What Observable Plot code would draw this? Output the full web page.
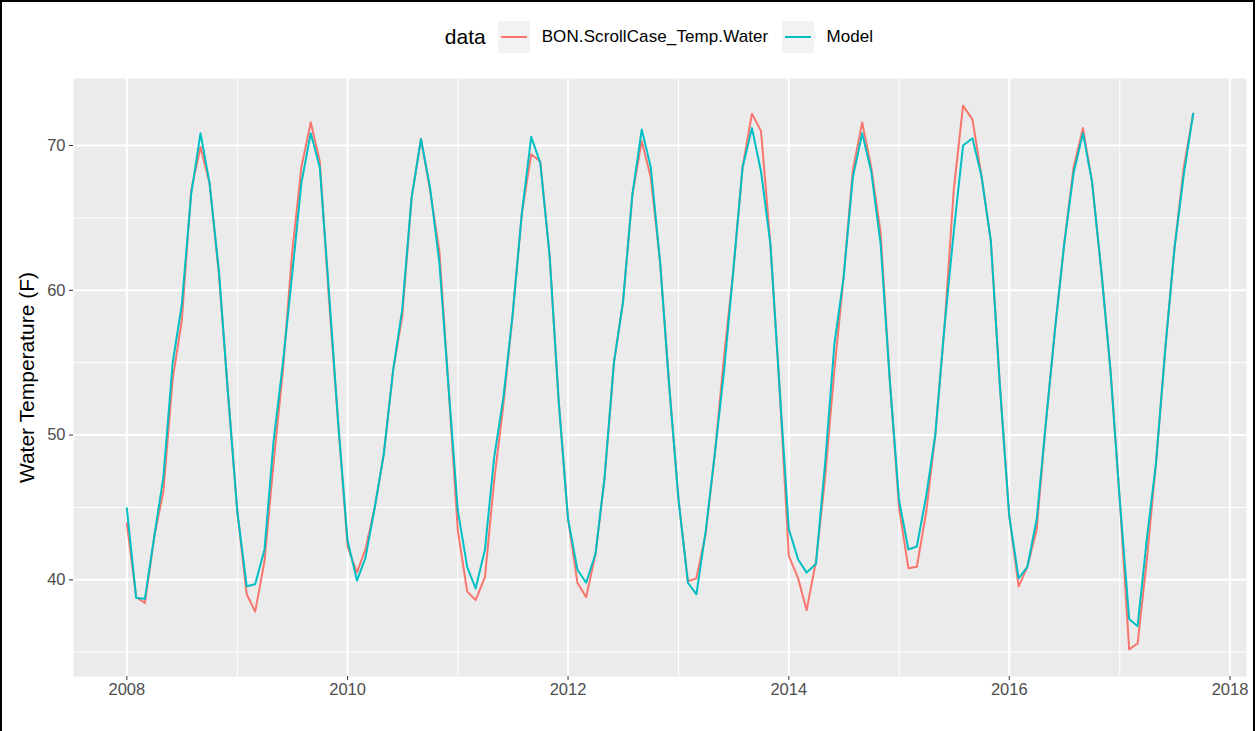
<!DOCTYPE html>
<html>
<head>
<meta charset="utf-8">
<script src="https://cdn.jsdelivr.net/npm/d3@7"></script>
<script src="https://cdn.jsdelivr.net/npm/@observablehq/plot@0.6"></script>
<style>
  html, body { margin: 0; padding: 0; background: #fff; }
  #frame {
    position: relative; width: 1251px; height: 729px;
    border: 2px solid #000; border-bottom: none;
    font-family: "Liberation Sans", Arial, sans-serif; background: #fff;
  }
  #legend {
    height: 70px; box-sizing: border-box; padding-left: 84px; padding-right: 7px;
    display: flex; align-items: center; justify-content: center;
  }
  #legend .title { font-size: 21px; color: #000; margin-right: 12px; }
  #legend .key { width: 32px; height: 32px; background: #F2F2F2; position: relative; }
  #legend .key span { position: absolute; left: 3px; right: 3px; top: 15px; height: 2px; }
  #legend .lab { font-size: 17px; color: #000; margin-left: 12px; margin-right: 14px; letter-spacing: 0.1px; }
  #chart svg { display: block; }
</style>
</head>
<body>
<div id="frame">
  <div id="legend"></div>
  <div id="chart"></div>
</div>
<script>
// ---------------- data ----------------
const seriesNames = ["BON.ScrollCase_Temp.Water", "Model"];
const seriesColors = ["#F8766D", "#00BFC4"];
const legendTitle = "data";
const yTitle = "Water Temperature (F)";
const firstYear = 2008;  // monthly values start January 2008

// BON.ScrollCase_Temp.Water, monthly, Jan 2008 .. Sep 2017
const bonValues = [
  43.9, 38.8, 38.4, 43.0, 46.1, 53.9, 57.9, 66.9, 69.9, 67.4, 61.1, 52.9,
  44.7, 39.0, 37.8, 41.3, 48.1, 54.5, 62.5, 68.5, 71.6, 68.9, 59.2, 50.8,
  42.3, 40.5, 42.1, 45.0, 48.7, 54.5, 58.2, 66.4, 70.45, 66.9, 62.7, 53.4,
  43.4, 39.2, 38.6, 40.2, 46.8, 52.1, 58.2, 65.3, 69.4, 68.9, 62.4, 52.35,
  44.2, 39.8, 38.8, 41.8, 47.0, 55.0, 59.2, 66.6, 70.3, 67.8, 61.9, 53.4,
  45.5, 39.9, 40.1, 43.2, 48.7, 55.5, 61.3, 68.5, 72.2, 71.0, 63.2, 53.4,
  41.65, 40.1, 37.9, 41.3, 47.0, 54.5, 60.8, 68.3, 71.6, 68.5, 64.0, 53.9,
  45.0, 40.8, 40.9, 44.7, 50.0, 57.6, 66.9, 72.75, 71.8, 67.9, 63.4, 53.4,
  44.4, 39.55, 40.9, 43.5, 50.8, 57.4, 63.2, 68.5, 71.2, 67.5, 61.3, 54.5,
  45.5, 35.2, 35.6, 41.5, 48.1, 56.05, 62.9, 68.5, 72.2
];

// Model, monthly, Jan 2008 .. Sep 2017
const modelValues = [
  44.95, 38.75, 38.7, 43.0, 47.1, 55.0, 59.0, 66.6, 70.85, 67.4, 61.3, 52.9,
  44.7, 39.55, 39.7, 42.1, 49.6, 55.0, 61.0, 67.4, 70.85, 68.5, 59.7, 50.8,
  42.7, 39.95, 41.5, 45.0, 48.7, 54.5, 58.7, 66.4, 70.45, 67.1, 61.9, 53.4,
  44.8, 40.9, 39.4, 42.1, 48.4, 52.6, 58.2, 65.3, 70.6, 68.8, 62.4, 52.35,
  44.2, 40.7, 39.8, 41.8, 47.1, 55.0, 59.2, 66.6, 71.1, 68.5, 61.9, 53.4,
  45.5, 39.8, 39.0, 43.4, 48.7, 54.5, 61.3, 68.5, 71.2, 68.2, 63.2, 53.4,
  43.5, 41.4, 40.5, 41.1, 48.0, 56.3, 60.8, 67.8, 70.85, 68.2, 63.2, 53.9,
  45.5, 42.1, 42.3, 45.8, 50.0, 57.6, 64.0, 70.0, 70.5, 67.9, 63.4, 53.4,
  44.4, 40.1, 40.9, 44.2, 50.8, 57.4, 63.2, 68.1, 70.85, 67.5, 61.3, 54.5,
  45.5, 37.3, 36.8, 42.9, 48.1, 56.05, 62.9, 68.0, 72.2
];

const yMajorTicks = [40, 50, 60, 70];
const yMinorTicks = [35, 45, 55, 65];
const xMajorYears = [2008, 2010, 2012, 2014, 2016, 2018];
const xMinorYears = [2009, 2011, 2013, 2015, 2017];

// ---------------- build ----------------
const monthDate = i => new Date(Date.UTC(firstYear, i, 1));
const yearDate = y => new Date(Date.UTC(y, 0, 1));
const rows = [];
[bonValues, modelValues].forEach((vals, s) => {
  vals.forEach((v, i) => rows.push({date: monthDate(i), value: v, series: seriesNames[s]}));
});

// ggplot-like 5% expansion
const tExt = d3.extent(rows, d => +d.date);
const tPad = (tExt[1] - tExt[0]) * 0.05;
const vExt = d3.extent(rows, d => d.value);
const vPad = (vExt[1] - vExt[0]) * 0.05;

// legend
const legend = document.getElementById("legend");
const lt = document.createElement("span"); lt.className = "title"; lt.textContent = legendTitle; legend.appendChild(lt);
seriesNames.forEach((name, i) => {
  const k = document.createElement("div"); k.className = "key";
  const ln = document.createElement("span"); ln.style.background = seriesColors[i]; k.appendChild(ln);
  legend.appendChild(k);
  const t = document.createElement("span"); t.className = "lab"; t.textContent = name; legend.appendChild(t);
});

const fmtYear = d3.utcFormat("%Y");

const chart = Plot.plot({
  width: 1251,
  height: 659,
  marginLeft: 71,
  marginRight: 7,
  marginTop: 6,
  marginBottom: 55,
  style: {fontFamily: '"Liberation Sans", Arial, sans-serif', background: "transparent"},
  x: {type: "utc", domain: [new Date(tExt[0] - tPad), new Date(tExt[1] + tPad)]},
  y: {domain: [vExt[0] - vPad, vExt[1] + vPad]},
  color: {domain: seriesNames, range: seriesColors},
  marks: [
    Plot.frame({fill: "#EBEBEB", stroke: "none"}),
    Plot.ruleY(yMinorTicks, {stroke: "#fff", strokeWidth: 1}),
    Plot.ruleX(xMinorYears.map(yearDate), {stroke: "#fff", strokeWidth: 1}),
    Plot.ruleY(yMajorTicks, {stroke: "#fff", strokeWidth: 2}),
    Plot.ruleX(xMajorYears.map(yearDate), {stroke: "#fff", strokeWidth: 2}),
    Plot.line(rows, {x: "date", y: "value", z: "series", stroke: "series", strokeWidth: 2}),
    Plot.axisY({ticks: yMajorTicks, tickSize: 4, tickPadding: 4, fontSize: 16.5, color: "#4D4D4D", stroke: "#333", label: null}),
    Plot.axisY({ticks: [], tickSize: 0, label: yTitle, labelAnchor: "center", labelArrow: "none", labelOffset: 54, fontSize: 21, color: "#000"}),
    Plot.axisX({ticks: xMajorYears.map(yearDate), tickFormat: fmtYear, tickSize: 4, tickPadding: 3, fontSize: 16.5, color: "#4D4D4D", stroke: "#333", label: null})
  ]
});
document.getElementById("chart").appendChild(chart);
</script>
</body>
</html>
